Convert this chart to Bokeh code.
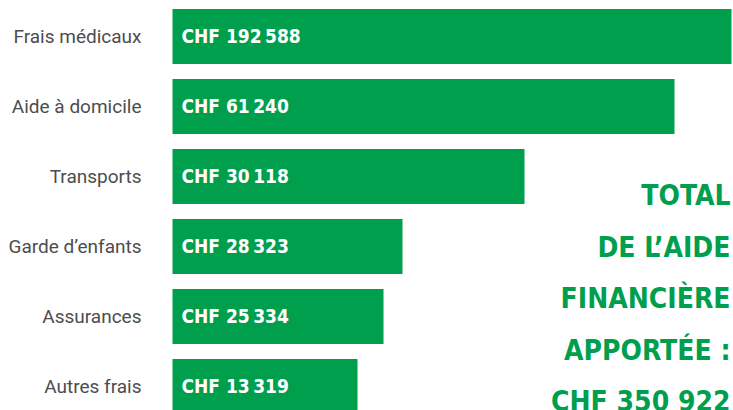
from bokeh.plotting import figure
from bokeh.models import Range1d, ColumnDataSource, Label
from bokeh.core.properties import value
from bokeh.embed import file_html
from bokeh.resources import INLINE

categories = ["Frais médicaux", "Aide à domicile", "Transports", "Garde d’enfants", "Assurances", "Autres frais"]
amounts = [192588, 61240, 30118, 28323, 25334, 13319]
# bar lengths as drawn in the reference (decorative, not proportional)
bar_lengths = [559, 502, 352, 230, 211, 185]
total_lines = ["TOTAL", "DE L’AIDE", "FINANCIÈRE", "APPORTÉE :", "CHF 350 922"]

GREEN = "#009F4D"

def fmt(v):
    s = f"{v:,}".replace(",", "\u2009")
    return "CHF " + s

idx = list(range(len(categories)))
src = ColumnDataSource(dict(
    y=idx,
    right=bar_lengths,
    cat=categories,
    lbl=[fmt(v) for v in amounts],
))

p = figure(width=733, height=410, output_backend="svg", toolbar_location=None,
           x_range=Range1d(-172, 561), y_range=Range1d(5.343, -0.514),
           min_border=0, min_border_left=0, min_border_right=0,
           min_border_top=0, min_border_bottom=0)
p.axis.visible = False
p.grid.visible = False
p.outline_line_color = None
p.background_fill_color = "white"
p.border_fill_color = "white"

p.hbar(y="y", left=0, right="right", height=0.786, source=src,
       fill_color=GREEN, line_color=None)

p.text(x=-31, y="y", text="cat", source=src, text_align="right",
       text_baseline="middle", text_font=value("Roboto"),
       text_font_size="19px", text_color="#4d4d4d")

p.text(x=9, y="y", text="lbl", source=src, text_align="left",
       text_baseline="middle", text_font=value("DejaVu Sans Condensed"),
       text_font_style="bold", text_font_size="19px", text_color="white")

base = 195
for i, line in enumerate(total_lines):
    p.add_layout(Label(x=730, y=410 - (base + 51.5 * i), x_units="screen", y_units="screen",
                       text=line, text_align="right", text_baseline="alphabetic",
                       text_font="DejaVu Sans Condensed", text_font_style="bold",
                       text_font_size="28px", text_color=GREEN))

open("out.html", "w").write(file_html(p, INLINE))
